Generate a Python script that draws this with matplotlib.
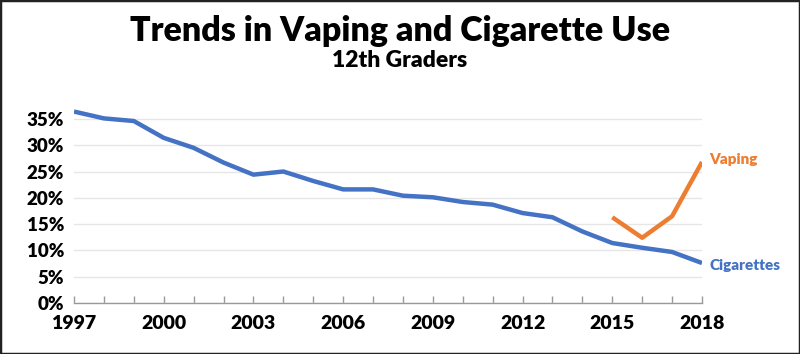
import matplotlib
matplotlib.use("Agg")
import matplotlib.pyplot as plt
from matplotlib.patches import Rectangle
from matplotlib.ticker import MultipleLocator, FuncFormatter

years = list(range(1997, 2019))
cigarettes = [36.4, 35.1, 34.6, 31.4, 29.5, 26.7, 24.4, 25.0, 23.2, 21.6, 21.6,
              20.4, 20.1, 19.2, 18.7, 17.1, 16.3, 13.6, 11.4, 10.5, 9.7, 7.6]
vape_years = [2015, 2016, 2017, 2018]
vaping = [16.3, 12.4, 16.5, 26.8]

xtick_years = [1997, 2000, 2003, 2006, 2009, 2012, 2015, 2018]
ytick_vals = [0, 5, 10, 15, 20, 25, 30, 35]

blue = "#4472C4"
orange = "#ED7D31"

plt.rcParams['font.family'] = ['Lato', 'DejaVu Sans']

fig = plt.figure(figsize=(8, 3.54), dpi=100)
ax = fig.add_axes([0.0925, 0.1441, 0.785, 0.5497])

ax.plot(years, cigarettes, color=blue, lw=3.2, solid_capstyle='butt', zorder=3)
ax.plot(vape_years, vaping, color=orange, lw=3.2, solid_capstyle='butt', zorder=3)

ax.set_xlim(1997, 2018)
ax.set_ylim(0, 37)
ax.set_yticks(ytick_vals)
ax.yaxis.set_major_formatter(FuncFormatter(lambda v, p: f"{int(v)}%"))
ax.set_xticks(xtick_years)
ax.xaxis.set_minor_locator(MultipleLocator(1))
ax.grid(axis='y', color='#e6e6e6', lw=1)
ax.set_axisbelow(True)

for s in ['top', 'right', 'left']:
    ax.spines[s].set_visible(False)
ax.spines['bottom'].set_color('#999999')
ax.spines['bottom'].set_linewidth(1)

ax.tick_params(axis='y', length=0, pad=7, labelsize=13.5)
ax.tick_params(axis='x', which='both', direction='in', length=5, color='#999999',
               width=1, pad=9, labelsize=14)
for lab in ax.get_xticklabels() + ax.get_yticklabels():
    lab.set_fontweight('heavy')

ax.text(2018.25, vaping[-1] + 0.4, "Vaping", color=orange, fontsize=11,
        fontweight='heavy', va='center', ha='left')
ax.text(2018.25, cigarettes[-1] - 0.4, "Cigarettes", color=blue, fontsize=11,
        fontweight='heavy', va='center', ha='left')

fig.text(0.5, 0.912, "Trends in Vaping and Cigarette Use", ha='center', va='center',
         fontsize=24.5, fontweight='heavy', color='black')
fig.text(0.5, 0.83, "12th Graders", ha='center', va='center',
         fontsize=16.5, fontweight='heavy', color='black')

fig.patches.append(Rectangle((0, 0), 1, 1, transform=fig.transFigure, fill=False,
                             edgecolor='#222222', lw=2.5))

fig.savefig("out.png", dpi=100)
